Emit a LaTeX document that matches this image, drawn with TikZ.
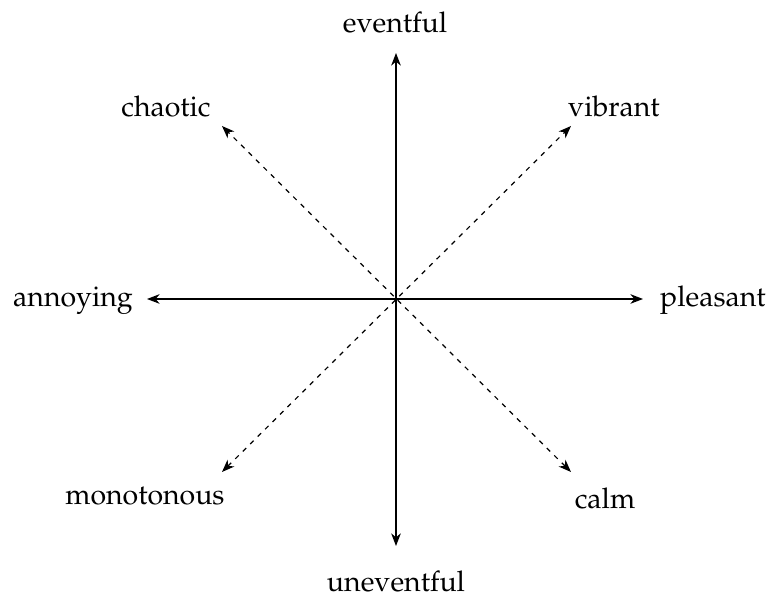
\documentclass[tikz,border=0pt]{standalone}
\IfFileExists{mathpazo.sty}{\usepackage[T1]{fontenc}\usepackage{mathpazo}}{%
  \IfFileExists{palatino.sty}{\usepackage[T1]{fontenc}\usepackage{palatino}}{}}
\usetikzlibrary{arrows.meta}
\tikzset{
  tip/.tip={Stealth[length=4.2pt,width=3.2pt,inset=1.3pt]},
  axis/.style={line width=0.4pt, tip-tip},
  diag/.style={axis, dash pattern=on 1.6pt off 1.9pt},
  lbl/.style={anchor=base, inner sep=0pt, font=\fontsize{9.5}{11}\selectfont}
}
\begin{document}
\begin{tikzpicture}[x=0.3333pt,y=-0.3333pt]
\useasboundingbox (0,0) rectangle (769,596);
\coordinate (O) at (396,299);
\coordinate (N) at (396,53);
\coordinate (S) at (396,546);
\coordinate (W) at (147,299);
\coordinate (E) at (643,299);
\coordinate (NW) at (222,126);
\coordinate (NE) at (571,126);
\coordinate (SW) at (222,472);
\coordinate (SE) at (571,472);
\draw[axis] (S) -- (N);
\draw[axis] (W) -- (E);
\draw[diag] (SW) -- (NE);
\draw[diag] (SE) -- (NW);
\node[lbl] (eventful) at (395,33) {eventful};
\node[lbl] (uneventful) at (396,592) {uneventful};
\node[lbl] (annoying) at (73,307) {annoying};
\node[lbl] (pleasant) at (713,307) {pleasant};
\node[lbl] (chaotic) at (166,117) {chaotic};
\node[lbl] (vibrant) at (614,117) {vibrant};
\node[lbl] (monotonous) at (145,505) {monotonous};
\node[lbl] (calm) at (605,509) {calm};
\end{tikzpicture}
\end{document}
